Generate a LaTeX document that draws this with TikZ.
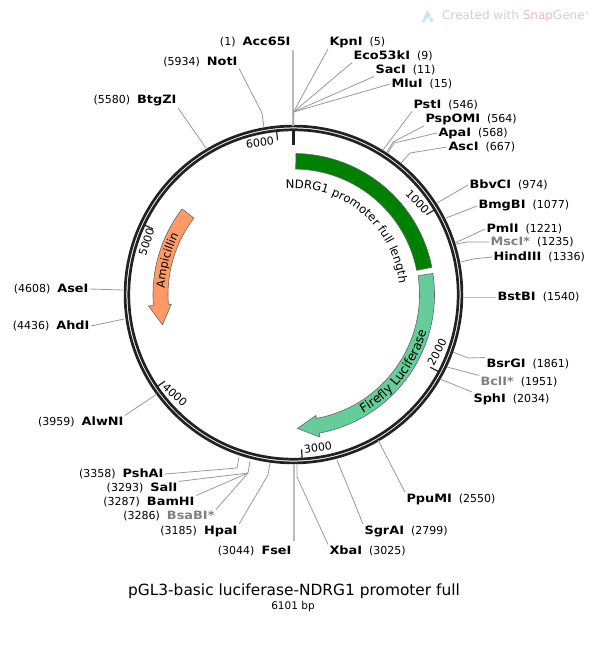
\documentclass[tikz,border=0pt]{standalone}
\usepackage{fontspec}
\setmainfont{DejaVu Sans}
\newfontface\bnm{DejaVu Sans Bold}[FakeStretch=1.12]
\usetikzlibrary{decorations.text}
\definecolor{ringc}{HTML}{222222}
\definecolor{connc}{HTML}{999999}
\definecolor{thickc}{HTML}{BBBBBB}
\definecolor{greyname}{HTML}{808080}
\definecolor{fgreen}{HTML}{008000}
\definecolor{fluc}{HTML}{66CC99}
\definecolor{famp}{HTML}{FF9966}
\definecolor{wm}{HTML}{CFCFCF}
\definecolor{wmp}{HTML}{F0B8B8}
\definecolor{wmi}{HTML}{C4E6F5}
\newcommand\szA{\fontsize{11}{13}\selectfont}
\newcommand\szN{\fontsize{11.5}{13}\selectfont\bnm}
\newcommand\Rr[2]{{\szN #1}\hspace{7pt}{\szA(#2)}}
\newcommand\Lr[2]{{\szA(#2)}\hspace{7pt}{\szN #1}}
\newcommand\Rg[2]{{\szN\textcolor{greyname}{#1}}\hspace{7pt}{\szA(#2)}}
\newcommand\Lg[2]{{\szA(#2)}\hspace{7pt}{\szN\textcolor{greyname}{#1}}}
\def\pol#1#2{({293.5+#2*sin(#1)},{294.5-#2*cos(#1)})}
\tikzset{
  lbl/.style={inner sep=0pt,outer sep=1.5pt,text=black},
  rl/.style={lbl,anchor=west},
  ll/.style={lbl,anchor=east},
  conn/.style={draw=connc,line width=0.8pt},
  connw/.style={draw=thickc,line width=1.6pt},
  ringl/.style={draw=ringc,line width=2.7pt},
  ticks/.style={draw=ringc,line width=1.2pt},
  ticklab/.style={inner sep=0pt,font=\fontsize{11}{12}\selectfont,text=black},
  feat/.style={draw=black!60,line width=0.6pt},
}
\begin{document}
\begin{tikzpicture}[x=1pt,y=-1pt]
\useasboundingbox (0,0) rectangle (601,649);
% watermark
\fill[wmi] (422,22) -- (427,10) -- (431,16) -- (426,19) -- (424,23) -- cycle;
\fill[wmi] (429,19) -- (431,17) -- (434,21) -- (430,22) -- cycle;
\node[anchor=west,inner sep=0pt,font=\fontsize{12}{14}\selectfont,text=wm] (wmark) at (442,16.5) {Created with \textcolor{wmp}{Snap}Gene\textsuperscript{\tiny®}};
% ring
\draw[ringl] (293.5,294.5) circle[radius=168.4];
\draw[ringl] (293.5,294.5) circle[radius=164.7];
% features
\draw[feat,fill=fgreen] \pol{1}{141} arc[start angle=-89,end angle=-11.1,radius=141] -- \pol{78.9}{125.5} arc[start angle=-11.1,end angle=-89,radius=125.5] -- cycle;
\draw[feat,fill=fluc] \pol{81.4}{141} arc[start angle=-8.6,end angle=79.5,radius=141] -- \pol{169.5}{145} -- \pol{178.3}{134} -- \pol{169.5}{123} -- \pol{169.5}{126} arc[start angle=79.5,end angle=-8.6,radius=126] -- cycle;
\draw[feat,fill=famp] \pol{307.5}{140.5} arc[start angle=217.5,end angle=175.5,radius=140.5] -- \pol{265.5}{145.5} -- \pol{257}{134.5} -- \pol{265.5}{122.5} -- \pol{265.5}{125.5} arc[start angle=175.5,end angle=217.5,radius=125.5] -- cycle;
% feature labels
\path[decorate,decoration={text along path,text align=center,text={|\fontsize{11.7}{14}\selectfont|NDRG1 promoter full length}}] \pol{-15}{106} arc[start angle=-105,end angle=5,radius=106];
\path[decorate,decoration={text along path,text align=center,text={|\fontsize{12.5}{14}\selectfont|Firefly Luciferase}}] \pol{155}{138} arc[start angle=65,end angle=10,radius=138];
\path[decorate,decoration={text along path,text align=center,text={|\fontsize{11.4}{14}\selectfont|Ampicillin}}] \pol{263}{129} arc[start angle=173,end angle=217,radius=129];
% ticks
\draw[draw=ringc,line width=3pt] \pol{0}{164} -- \pol{0}{150};
\draw[ticks] \pol{354.1}{164} -- \pol{354.1}{155};
\draw[ticks] \pol{59}{164} -- \pol{59}{155};
\draw[ticks] \pol{118}{164} -- \pol{118}{155};
\draw[ticks] \pol{177}{164} -- \pol{177}{155};
\draw[ticks] \pol{236}{164} -- \pol{236}{155};
\draw[ticks] \pol{295}{164} -- \pol{295}{155};
\node[ticklab,rotate=8] (t6000) at (260,142.5) {6000};
\node[ticklab,rotate=-46] (t1000) at (417.5,202) {1000};
\node[ticklab,rotate=62] (t2000) at (437,352) {2000};
\node[ticklab,rotate=8] (t3000) at (318,448) {3000};
\node[ticklab,rotate=-42] (t4000) at (175,395) {4000};
\node[ticklab,rotate=72] (t5000) at (146.5,242) {5000};
% site labels
\node[ll] (Acc) at (292,42) {\Lr{Acc65I}{1}};
\node[rl] (Kpn) at (328,42) {\Rr{KpnI}{5}};
\node[rl] (Eco) at (352,56) {\Rr{Eco53kI}{9}};
\node[rl] (Sac) at (374,70) {\Rr{SacI}{11}};
\node[rl] (Mlu) at (390,84) {\Rr{MluI}{15}};
\node[rl] (Pst) at (412,105) {\Rr{PstI}{546}};
\node[rl] (Psp) at (424,119) {\Rr{PspOMI}{564}};
\node[rl] (Apa) at (437,133) {\Rr{ApaI}{568}};
\node[rl] (Asc) at (447,147) {\Rr{AscI}{667}};
\node[rl] (Bbv) at (468,185) {\Rr{BbvCI}{974}};
\node[rl] (Bmg) at (477,206) {\Rr{BmgBI}{1077}};
\node[rl] (Pml) at (485,229) {\Rr{PmlI}{1221}};
\node[rl] (Msc) at (489,242) {\Rg{MscI*}{1235}};
\node[rl] (Hin) at (492,257) {\Rr{HindIII}{1336}};
\node[rl] (Bst) at (496,297.5) {\Rr{BstBI}{1540}};
\node[rl] (Bsr) at (485,364) {\Rr{BsrGI}{1861}};
\node[rl] (Bcl) at (479,382) {\Rg{BclI*}{1951}};
\node[rl] (Sph) at (472,399) {\Rr{SphI}{2034}};
\node[rl] (Ppu) at (405,499) {\Rr{PpuMI}{2550}};
\node[rl] (Sgr) at (363,531) {\Rr{SgrAI}{2799}};
\node[rl] (Xba) at (328,551) {\Rr{XbaI}{3025}};
\node[ll] (Fse) at (293,551) {\Lr{FseI}{3044}};
\node[ll] (Hpa) at (239,531) {\Lr{HpaI}{3185}};
\node[ll] (Bsa) at (216,516) {\Lg{BsaBI*}{3286}};
\node[ll] (Bam) at (196,502) {\Lr{BamHI}{3287}};
\node[ll] (Sal) at (179,488) {\Lr{SalI}{3293}};
\node[ll] (Psh) at (165,474) {\Lr{PshAI}{3358}};
\node[ll] (Alw) at (125,422) {\Lr{AlwNI}{3959}};
\node[ll] (Ahd) at (91,326) {\Lr{AhdI}{4436}};
\node[ll] (Ase) at (90,289) {\Lr{AseI}{4608}};
\node[ll] (Btg) at (178,101) {\Lr{BtgZI}{5580}};
\node[ll] (Not) at (239,62) {\Lr{NotI}{5934}};
% ring anchor coordinates
\coordinate (eTop) at (293.5,112);
\coordinate (rTop) at (294,126);
\coordinate (eNot) at (262,113);
\coordinate (rNot) at (264,128);
\coordinate (ePsp) at (393,142);
\coordinate (ePa) at (394,143);
\coordinate (eAsc) at (410,153);
\coordinate (eMsc) at (467,242);
\coordinate (eHin) at (473,259);
\coordinate (eBsr) at (468,358);
\coordinate (eXba) at (297,477);
\coordinate (eHpa) at (268,475);
\coordinate (eBsa) at (248,473);
\coordinate (ePsh) at (237,468);
\coordinate (sAcc) at (293,50);
\coordinate (sFse) at (294,541);
% connectors
\draw[connw] (sAcc) -- (293,126);
\draw[conn] (Kpn.south west) -- (eTop) -- (rTop);
\draw[conn] (Eco.south west) -- (eTop);
\draw[conn] (Sac.south west) -- (eTop);
\draw[conn] (Mlu.west) -- (eTop);
\draw[conn] (Not.south east) -- (eNot) -- (rNot);
\draw[conn] (Btg.south east) -- (206,148);
\draw[conn] (Pst.south west) -- (383,150);
\draw[conn] (Psp.south west) -- (ePsp) -- (387,152);
\draw[conn] (Apa.west) -- (ePa) -- (388,153);
\draw[conn] (Asc.west) -- (eAsc) -- (401,163);
\draw[conn] (Bbv.west) -- (437,203);
\draw[conn] (Bmg.west) -- (446,218);
\draw[conn] (Pml.west) -- (455,243);
\draw[conn] (Msc.west) -- (eMsc) -- (456,244);
\draw[conn] (Hin.west) -- (eHin) -- (461,262);
\draw[connw] (Bst.west) -- (463,297.5);
\draw[conn] (Bsr.north west) -- (eBsr) -- (453,352);
\draw[conn] (Bcl.north west) -- (447,367);
\draw[conn] (Sph.north west) -- (440,379);
\draw[conn] (Ppu.north west) -- (378,440);
\draw[conn] (Sgr.north west) -- (337,460);
\draw[conn] (Xba.north west) -- (eXba) -- (297,464);
\draw[connw] (sFse) -- (294,465);
\draw[conn] (Hpa.north east) -- (eHpa) -- (270,463);
\draw[conn] (Bsa.north east) -- (eBsa) -- (250,461);
\draw[conn] (Bam.north east) -- (eBsa);
\draw[conn] (Sal.north east) -- (eBsa);
\draw[conn] (Psh.east) -- (ePsh) -- (239,457);
\draw[conn] (Alw.north east) -- (157,394);
\draw[conn] (Ahd.east) -- (124,319);
\draw[conn] (Ase.east) -- (123,290);
% title
\node[inner sep=0pt,font=\fontsize{15.4}{17}\selectfont] (title) at (294,591.5) {pGL3-basic luciferase-NDRG1 promoter full};
\node[inner sep=0pt,font=\fontsize{10.5}{12}\selectfont] (bp) at (293,607) {6101 bp};
\end{tikzpicture}
\end{document}
